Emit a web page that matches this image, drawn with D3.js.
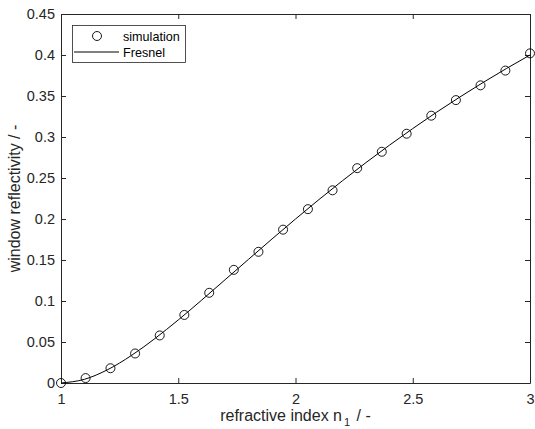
<!DOCTYPE html>
<html>
<head>
<meta charset="utf-8">
<script src="https://cdn.jsdelivr.net/npm/d3@7"></script>
<style>
  body { margin: 0; background: #fff; }
  svg { display: block; font-family: "Liberation Sans", Arial, Helvetica, sans-serif; }
</style>
</head>
<body>
<svg id="svg" width="535" height="429"></svg>
<script>
// simulated window reflectivity (circles)
var simN = [1.000, 1.105, 1.211, 1.316, 1.421, 1.526, 1.632, 1.737, 1.842, 1.947,
            2.053, 2.158, 2.263, 2.368, 2.474, 2.579, 2.684, 2.789, 2.895, 3.000];
var simR = [0.000, 0.006, 0.018, 0.036, 0.058, 0.083, 0.110, 0.138, 0.160, 0.187,
            0.212, 0.235, 0.262, 0.282, 0.304, 0.326, 0.345, 0.363, 0.381, 0.402];

// Fresnel curve (solid line)
var fresN = [1.0, 1.1, 1.2, 1.3, 1.4, 1.5, 1.6, 1.7, 1.8, 1.9, 2.0,
             2.1, 2.2, 2.3, 2.4, 2.5, 2.6, 2.7, 2.8, 2.9, 3.0];
var fresR = [0.000, 0.0045, 0.0164, 0.0335, 0.0541, 0.0769, 0.1011, 0.1260, 0.1509, 0.1757, 0.2000,
             0.2237, 0.2466, 0.2687, 0.2899, 0.3103, 0.3299, 0.3486, 0.3665, 0.3836, 0.4000];

var xTicks = [1, 1.5, 2, 2.5, 3];
var yTicks = [0, 0.05, 0.1, 0.15, 0.2, 0.25, 0.3, 0.35, 0.4, 0.45];
var legendLabels = ["simulation", "Fresnel"];

var svg = d3.select("#svg");
var axisColor = "#262626";

var plot = {left: 61, right: 530, top: 14, bottom: 383};

var xScale = d3.scaleLinear().domain([1, 3]).range([plot.left, plot.right]);
var yScale = d3.scaleLinear().domain([0, 0.45]).range([plot.bottom, plot.top]);

var fmt = function (d) { return String(+d.toFixed(2)); };

// axes (ticks pointing inward, box on all four sides)
var xAxis = svg.append("g")
    .attr("transform", "translate(0," + plot.bottom + ")")
    .call(d3.axisBottom(xScale).tickValues(xTicks).tickFormat(fmt).tickSizeInner(-5).tickSizeOuter(0).tickPadding(11));
var xTop = svg.append("g")
    .attr("transform", "translate(0," + plot.top + ")")
    .call(d3.axisTop(xScale).tickValues(xTicks).tickFormat("").tickSizeInner(-5).tickSizeOuter(0));
var yAxis = svg.append("g")
    .attr("transform", "translate(" + plot.left + ",0)")
    .call(d3.axisLeft(yScale).tickValues(yTicks).tickFormat(fmt).tickSizeInner(-5).tickSizeOuter(0).tickPadding(6));
var yRight = svg.append("g")
    .attr("transform", "translate(" + plot.right + ",0)")
    .call(d3.axisRight(yScale).tickValues(yTicks).tickFormat("").tickSizeInner(-5).tickSizeOuter(0));

[xAxis, xTop, yAxis, yRight].forEach(function (g) {
    g.selectAll("path").attr("stroke", axisColor).attr("stroke-width", 1);
    g.selectAll("line").attr("stroke", axisColor);
    g.selectAll("text").attr("fill", axisColor).attr("font-size", "14.5px").attr("font-family", null);
});

// curve
var line = d3.line()
    .x(function (d, i) { return xScale(fresN[i]); })
    .y(function (d) { return yScale(d); })
    .curve(d3.curveMonotoneX);

svg.append("path")
    .datum(fresR)
    .attr("fill", "none")
    .attr("stroke", "#000")
    .attr("stroke-width", 1)
    .attr("d", line);

svg.append("g").selectAll("circle")
    .data(simR)
    .enter()
    .append("circle")
    .attr("cx", function (d, i) { return xScale(simN[i]); })
    .attr("cy", function (d) { return yScale(d); })
    .attr("r", 4.5)
    .attr("fill", "none")
    .attr("stroke", "#000")
    .attr("stroke-width", 0.9);

// axis labels
var xLabel = svg.append("text")
    .attr("x", (plot.left + plot.right) / 2)
    .attr("y", 421)
    .attr("text-anchor", "middle")
    .attr("font-size", "16px")
    .attr("fill", axisColor);
xLabel.append("tspan").text("refractive index n");
xLabel.append("tspan").attr("dx", 2).attr("dy", 5).attr("font-size", "11px").text("1");
xLabel.append("tspan").attr("dx", 2).attr("dy", -5).text(" / -");

svg.append("text")
    .attr("transform", "translate(20," + (plot.top + plot.bottom) / 2 + ") rotate(-90)")
    .attr("text-anchor", "middle")
    .attr("font-size", "16px")
    .attr("fill", axisColor)
    .text("window reflectivity / -");

// legend
var legend = svg.append("g");
legend.append("rect")
    .attr("x", 72.5).attr("y", 25.5)
    .attr("width", 113).attr("height", 37)
    .attr("fill", "#fff")
    .attr("stroke", axisColor)
    .attr("stroke-width", 0.8);
legend.append("circle")
    .attr("cx", 97).attr("cy", 36).attr("r", 4.5)
    .attr("fill", "none").attr("stroke", "#000").attr("stroke-width", 0.9);
legend.append("line")
    .attr("x1", 74).attr("x2", 119).attr("y1", 52).attr("y2", 52)
    .attr("stroke", "#000").attr("stroke-width", 1);
legend.selectAll("text.lbl")
    .data(legendLabels)
    .enter()
    .append("text")
    .attr("class", "lbl")
    .attr("x", 123)
    .attr("y", function (d, i) { return 40.5 + i * 16.5; })
    .attr("font-size", "12.6px")
    .attr("fill", "#000")
    .text(function (d) { return d; });
</script>
</body>
</html>
